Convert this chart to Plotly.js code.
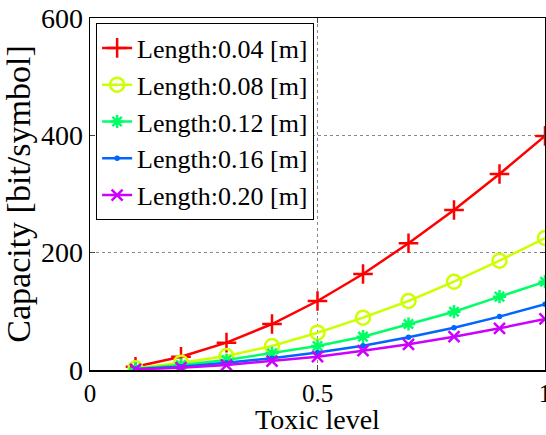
<!DOCTYPE html>
<html><head><meta charset="utf-8">
<script src="https://cdn.plot.ly/plotly-3.0.1.min.js"></script>
<style>html,body{margin:0;padding:0;background:#fff}#plot{width:546px;height:435px}</style>
</head><body><div id="plot"></div>
<script>
var toxic = [0.1,0.2,0.3,0.4,0.5,0.6,0.7,0.8,0.9,1.0];
var len004 = [5.6,22.7,46.6,78.4,117.6,163.6,216,272.7,334,399];
var len008 = [3,12.5,23.9,40.9,63.6,89.2,117.6,150.5,186.3,225];
var len012 = [2,8.5,17,28.4,40.9,56.8,78.4,99.4,125,150.5];
var len016 = [1.5,5.7,12.5,20,30,41.5,55.7,72,91,112];
var len020 = [1,4,8.5,15.3,22.7,33,43.8,56.8,71,87];
var names = ['Length:0.04 [m]','Length:0.08 [m]','Length:0.12 [m]','Length:0.16 [m]','Length:0.20 [m]'];
var colors = ['#ff0000','#ccff00','#00ff66','#0066ff','#cc00ff'];
var symbols = ['cross-thin-open','circle-open','asterisk-open','circle','x-thin-open'];
var sizes = [14,14,11,3,11];
var series = [len004,len008,len012,len016,len020];
var traces = series.map(function(s,i){
  return {x: toxic, y: s, name: names[i], mode:'lines+markers', type:'scatter',
    line:{color:colors[i], width:2.5},
    marker:{symbol:symbols[i], size:sizes[i], color:colors[i], line:{color:colors[i], width:2.5}}};
});
function F(sz){ return {family:'Liberation Serif, Times New Roman, serif', size:sz, color:'#000'}; }
var layout = {
  width:546, height:435, margin:{l:90,r:1,t:18,b:65},
  paper_bgcolor:'#fff', plot_bgcolor:'#fff', font:F(26), showlegend:true,
  xaxis:{range:[0,1], tickvals:[0,0.5,1], ticktext:['0','0.5','1'], ticks:'inside', ticklen:5,
    showline:true, linecolor:'#000', linewidth:1.5, mirror:'ticks', zeroline:false,
    showgrid:true, gridcolor:'#888', griddash:'dot', gridwidth:1, ticklabeloverflow:'allow',
    title:{text:'Toxic level', font:F(28), standoff:0}, tickfont:F(25), automargin:false},
  yaxis:{range:[0,600], tickvals:[0,200,400,600], ticks:'inside', ticklen:5,
    showline:true, linecolor:'#000', linewidth:1.5, mirror:'ticks', zeroline:false,
    showgrid:true, gridcolor:'#888', griddash:'dot', gridwidth:1,
    title:{text:'Capacity [bit/symbol]', font:F(34), standoff:0}, tickfont:F(28), automargin:false},
  legend:{x:0.013, y:0.985, xanchor:'left', yanchor:'top', bgcolor:'#fff',
    bordercolor:'#000', borderwidth:1.2, font:F(26), tracegroupgap:0, itemwidth:30}
};
Plotly.newPlot('plot', traces, layout, {displayModeBar:false, staticPlot:true});
</script></body></html>
